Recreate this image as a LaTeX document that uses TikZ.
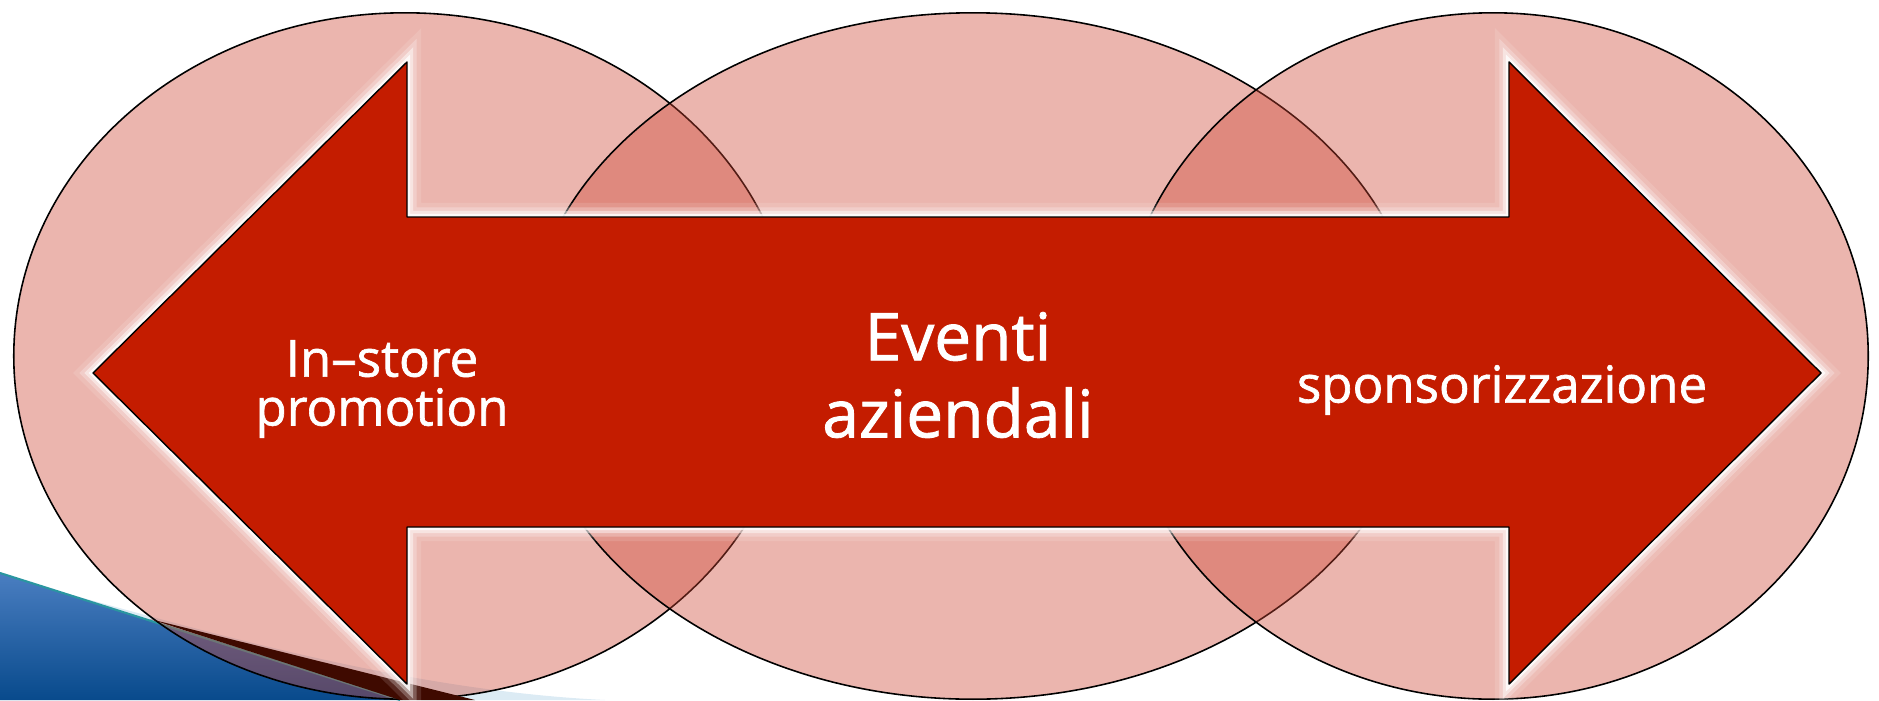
\documentclass[tikz,border=0pt]{standalone}
\usepackage{fontspec}
\setmainfont{Open Sans}
\newfontfamily\slidefont[FakeBold=1.3]{Open Sans}
\usepackage{tikz}
\usetikzlibrary{shapes.geometric, positioning}

\definecolor{arrowred}{RGB}{196,28,0}
\definecolor{ovalred}{RGB}{205,70,53}
\definecolor{wavetop}{RGB}{74,126,193}
\definecolor{wavebottom}{RGB}{8,74,140}
\definecolor{waveline}{RGB}{42,150,160}
\definecolor{wavelight}{RGB}{220,235,244}
\definecolor{waveshadow}{RGB}{63,10,0}

\tikzstyle{oval} = [ellipse, draw=black, line width=0.45pt, fill=ovalred, 
fill opacity=0.4, draw opacity=1, inner sep=0pt, minimum height=6.86cm]
\tikzstyle{arrowtext} = [text=white, align=center, inner sep=0pt]
\tikzstyle{halo} = [line join=round, fill=arrowred,
preaction={draw=white, line width=8pt, draw opacity=0.12},
preaction={draw=white, line width=5.5pt, draw opacity=0.25},
preaction={draw=white, line width=3.5pt, draw opacity=0.45},
preaction={draw=white, line width=1.8pt, draw opacity=0.8}]

\begin{document}
\begin{tikzpicture}[x=0.01cm, y=-0.01cm]
\useasboundingbox (0,0) rectangle (1879,700);
% wave in the corner
\fill[wavelight] (0,575) .. controls (200,630) and (400,690) .. (605,700) 
-- (0,700) -- cycle;
\shade[top color=wavetop, bottom color=wavebottom] (0,573) -- (400,700) 
-- (0,700) -- cycle;
\draw[waveline, line width=0.6pt] (0,573) -- (400,700);
% three ovals
\node[oval, minimum width=7.82cm] (leftoval) at (405,356) {};
\node[oval, minimum width=8.96cm] (midoval) at (973,356) {};
\node[oval, minimum width=7.5cm] (rightoval) at (1493,356) {};
\fill[waveshadow] (150,619) -- (475,700) -- (400,700) -- cycle;
% double arrow
\filldraw[halo, draw=black, line width=0.4pt] (93,373) -- (407,62) 
-- (407,217) -- (1509,217) -- (1509,62) -- (1821,373) -- (1509,684) 
-- (1509,527) -- (407,527) -- (407,684) -- cycle;
\node[arrowtext, font=\slidefont\fontsize{18.7}{21.9}\selectfont] (events) 
at (958,375) {Eventi\\aziendali};
\node[arrowtext, font=\slidefont\fontsize{14.5}{13.9}\selectfont] (instore) 
at (382,389) {In–store\\promotion};
\node[arrowtext, font=\slidefont\fontsize{14.5}{13.9}\selectfont] (sponsor) 
at (1502,390) {sponsorizzazione};
\end{tikzpicture}
\end{document}
